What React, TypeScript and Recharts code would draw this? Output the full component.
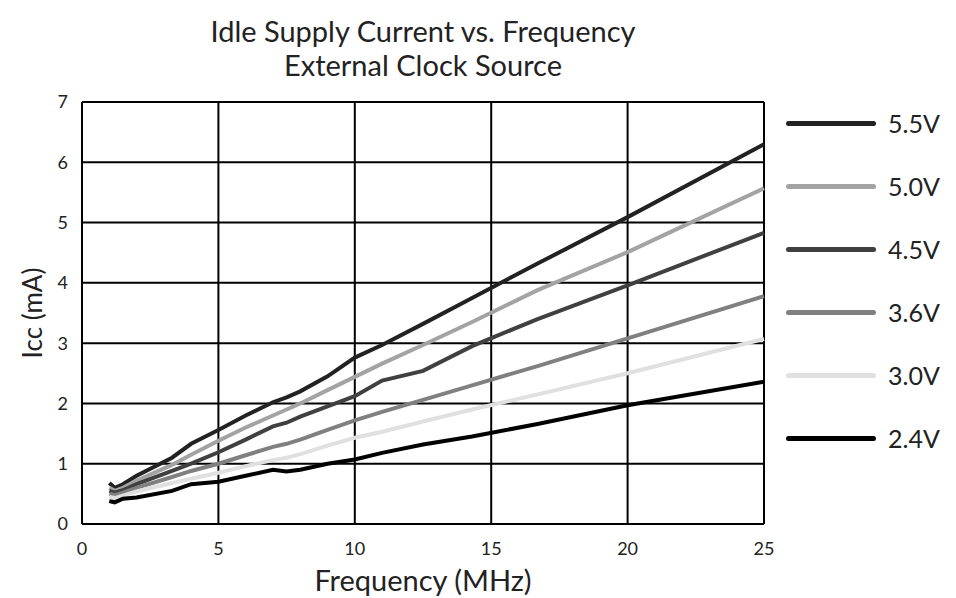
import React from "react";
import { LineChart, Line, XAxis, YAxis, CartesianGrid, Label } from "recharts";

const FREQ = [1, 1.2, 1.5, 2, 3.3, 4, 5, 6, 7, 7.5, 8, 9, 10, 11, 12.5, 14.3, 16.7, 20, 25];

const V55 = [0.68, 0.6, 0.66, 0.8, 1.1, 1.33, 1.56, 1.8, 2.02, 2.1, 2.2, 2.45, 2.76, 2.97, 3.32, 3.75, 4.32, 5.09, 6.3];
const V50 = [0.6, 0.55, 0.6, 0.72, 0.98, 1.15, 1.38, 1.6, 1.8, 1.9, 2.0, 2.22, 2.44, 2.66, 2.97, 3.35, 3.88, 4.51, 5.57];
const V45 = [0.55, 0.52, 0.56, 0.66, 0.88, 1.0, 1.19, 1.4, 1.62, 1.68, 1.78, 1.95, 2.12, 2.38, 2.54, 2.95, 3.4, 3.96, 4.83];
const V36 = [0.5, 0.48, 0.52, 0.6, 0.78, 0.88, 1.0, 1.14, 1.28, 1.33, 1.4, 1.56, 1.72, 1.86, 2.06, 2.3, 2.62, 3.08, 3.78];
const V30 = [0.45, 0.43, 0.47, 0.54, 0.68, 0.75, 0.85, 0.96, 1.06, 1.1, 1.16, 1.3, 1.43, 1.53, 1.7, 1.9, 2.15, 2.5, 3.07];
const V24 = [0.38, 0.36, 0.42, 0.44, 0.55, 0.66, 0.7, 0.8, 0.9, 0.87, 0.9, 1.0, 1.07, 1.18, 1.32, 1.45, 1.66, 1.97, 2.36];

const X_TICKS = [0, 5, 10, 15, 20, 25];
const Y_TICKS = [0, 1, 2, 3, 4, 5, 6, 7];

const SERIES = [
  { key: "v55", label: "5.5V", color: "#222222", values: V55 },
  { key: "v50", label: "5.0V", color: "#a3a3a3", values: V50 },
  { key: "v45", label: "4.5V", color: "#404040", values: V45 },
  { key: "v36", label: "3.6V", color: "#808080", values: V36 },
  { key: "v30", label: "3.0V", color: "#e0e0e0", values: V30 },
  { key: "v24", label: "2.4V", color: "#000000", values: V24 },
];

const FONT = "Lato, 'Open Sans', sans-serif";

export default function App() {
  const data = FREQ.map((f, i) => {
    const row: Record<string, number> = { f };
    SERIES.forEach((s) => {
      row[s.key] = s.values[i];
    });
    return row;
  });

  return (
    <div style={{ position: "absolute", left: 0, top: 0, width: 956, height: 598, background: "#fff", fontFamily: FONT }}>
      <div style={{ position: "absolute", left: 82, width: 682, top: 14, textAlign: "center", fontSize: 29, lineHeight: "34px", color: "#222" }}>
        Idle Supply Current vs. Frequency
        <br />
        External Clock Source
      </div>
      <LineChart width={956} height={598} data={data} margin={{ top: 102, right: 192, bottom: 44, left: 42 }}>
        <CartesianGrid stroke="#000" strokeWidth={2} horizontalValues={Y_TICKS} verticalValues={X_TICKS} />
        <XAxis
          dataKey="f"
          type="number"
          domain={[0, 25]}
          ticks={X_TICKS}
          axisLine={{ stroke: "#000", strokeWidth: 2 }}
          tickLine={false}
          tick={{ fontSize: 18, fill: "#222", fontFamily: FONT }}
          tickMargin={12}
          height={30}
        >
          <Label value="Frequency (MHz)" position="bottom" offset={16} style={{ fontSize: 29, fill: "#222", fontFamily: FONT }} />
        </XAxis>
        <YAxis
          type="number"
          domain={[0, 7]}
          ticks={Y_TICKS}
          axisLine={{ stroke: "#000", strokeWidth: 2 }}
          tickLine={false}
          tick={{ fontSize: 18, fill: "#222", fontFamily: FONT }}
          tickMargin={8}
          width={40}
        >
          <Label value="Icc (mA)" angle={-90} position="insideLeft" offset={-9} style={{ fontSize: 26, fill: "#222", fontFamily: FONT, textAnchor: "middle" }} />
        </YAxis>
        {SERIES.map((s) => (
          <Line
            key={s.key}
            dataKey={s.key}
            type="linear"
            stroke={s.color}
            strokeWidth={4}
            dot={false}
            isAnimationActive={false}
          />
        ))}
      </LineChart>
      {SERIES.map((s, i) => (
        <div key={s.key} style={{ position: "absolute", left: 786, top: 123 + i * 63 - 16, height: 32, display: "flex", alignItems: "center" }}>
          <span style={{ display: "inline-block", width: 90, height: 5, borderRadius: 3, background: s.color }} />
          <span style={{ marginLeft: 12, fontSize: 25, color: "#222" }}>{s.label}</span>
        </div>
      ))}
    </div>
  );
}
